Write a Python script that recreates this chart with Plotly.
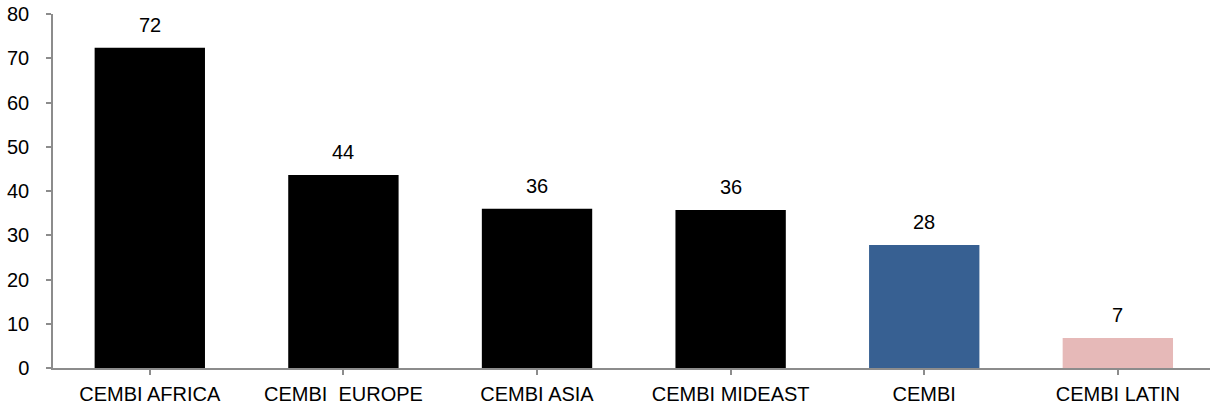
import plotly.graph_objects as go

categories = ["CEMBI AFRICA", "CEMBI  EUROPE", "CEMBI ASIA", "CEMBI MIDEAST", "CEMBI", "CEMBI LATIN"]
values = [72.4, 43.6, 36.0, 35.7, 27.8, 6.8]
colors = ["#000000", "#000000", "#000000", "#000000", "#376092", "#E6B9B8"]
y_ticks = [0, 10, 20, 30, 40, 50, 60, 70, 80]

font_family = "Liberation Sans, Arial, sans-serif"

fig = go.Figure()
fig.add_trace(go.Bar(
    x=categories, y=values, marker=dict(color=colors, line=dict(width=0)),
    width=0.57, hoverinfo="skip",
))

for c, v in zip(categories, values):
    fig.add_annotation(x=c, y=v, text=f"{round(v):d}", showarrow=False,
                       yanchor="bottom", yshift=10,
                       font=dict(size=20, color="#000000", family=font_family))

fig.update_layout(
    width=1210, height=406,
    margin=dict(l=53, r=0, t=14, b=38, autoexpand=False),
    paper_bgcolor="white", plot_bgcolor="white",
    showlegend=False,
    font=dict(family=font_family, size=20, color="#000000"),
)
fig.update_xaxes(
    range=[-0.5, 5.476], showgrid=False, showline=True, linecolor="#8c8c8c", linewidth=1.5,
    ticks="outside", ticklen=5, tickcolor="#8c8c8c", tickwidth=1.5,
    tickfont=dict(size=20, family=font_family, color="#000000"),
    automargin=False, ticklabelstandoff=2,
)
fig.update_yaxes(
    range=[0, 80], tickvals=y_ticks, showgrid=False, zeroline=False,
    showline=True, linecolor="#8c8c8c", linewidth=1.5,
    ticks="outside", ticklen=5, tickcolor="#8c8c8c", tickwidth=1.5,
    tickfont=dict(size=20, family=font_family, color="#000000"),
    automargin=False, ticklabelstandoff=13,
)

fig.write_html("out.html", config={"displayModeBar": False},
               post_script="document.body.style.margin='0';document.body.style.overflow='hidden';")
